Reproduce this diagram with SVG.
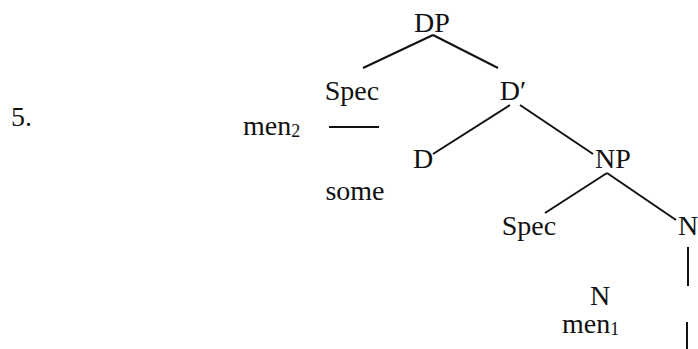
<svg xmlns="http://www.w3.org/2000/svg" width="698" height="349" viewBox="0 0 698 349">
  <style>
    text { font-family: "Liberation Serif", "Times New Roman", serif; font-size: 28px; fill: #111; }
    .lbl { text-anchor: middle; }
    .sub { font-size: 18px; }
    .edge { stroke: #111; stroke-width: 2; fill: none; }
  </style>
  <rect width="698" height="349" fill="#fff"/>
  <text x="11" y="126">5.</text>

  <g id="connectors">
    <line class="edge" x1="433" y1="35" x2="363" y2="68"/>
    <line class="edge" x1="433" y1="35" x2="498" y2="68"/>
    <line class="edge" x1="329" y1="127" x2="379" y2="127"/>
    <line class="edge" x1="510" y1="105" x2="433" y2="154"/>
    <line class="edge" x1="520" y1="105" x2="593" y2="154"/>
    <line class="edge" x1="607" y1="173" x2="545" y2="213"/>
    <line class="edge" x1="607" y1="173" x2="676" y2="220"/>
    <line class="edge" x1="688" y1="247" x2="688" y2="286"/>
    <line class="edge" x1="687" y1="322" x2="687" y2="349"/>
  </g>

  <g id="DP"><text class="lbl" x="432" y="32">DP</text></g>
  <g id="Spec-DP"><text class="lbl" x="352" y="100">Spec</text></g>
  <g id="men2"><text x="243" y="135">men<tspan class="sub" dy="2">2</tspan></text></g>
  <g id="Dbar"><text class="lbl" x="513" y="100">D′</text></g>
  <g id="D"><text class="lbl" x="423" y="168">D</text></g>
  <g id="some"><text class="lbl" x="355" y="200">some</text></g>
  <g id="NP"><text class="lbl" x="613" y="168">NP</text></g>
  <g id="Spec-NP"><text class="lbl" x="529" y="235">Spec</text></g>
  <g id="Nbar"><text x="678" y="235">N</text></g>
  <g id="N"><text class="lbl" x="600" y="305">N</text></g>
  <g id="men1"><text x="562" y="333">men<tspan class="sub" dy="2">1</tspan></text></g>
</svg>
